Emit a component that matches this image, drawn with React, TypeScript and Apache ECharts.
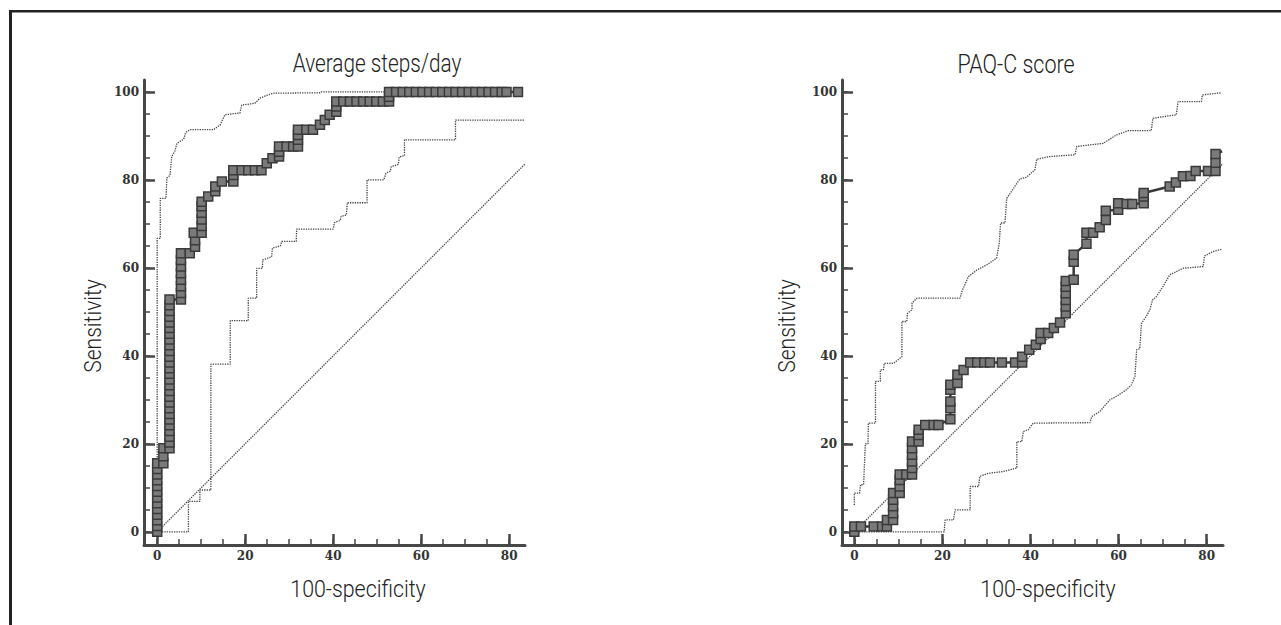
import React, { useEffect, useRef } from "react";
import * as echarts from "echarts";

// ---------- Tick values ----------
const majorTicksX = [0, 20, 40, 60, 80];
const minorTicksX = [0, 5, 10, 15, 20, 25, 30, 35, 40, 45, 50, 55, 60, 65, 70, 75, 80];
const majorTicksY = [0, 20, 40, 60, 80, 100];
const minorTicksY = [0, 5, 10, 15, 20, 25, 30, 35, 40, 45, 50, 55, 60, 65, 70, 75, 80, 85, 90, 95, 100];

// ---------- Texts ----------
const titleLeft = "Average steps/day";
const titleRight = "PAQ-C score";
const xName = "100-specificity";
const yName = "Sensitivity";

// ---------- Average steps/day ----------
const stepsRoc: number[][] = [
  [0, 0], [0, 1.3], [0, 2.6], [0, 3.9], [0, 5.2], [0, 6.5], [0, 7.8], [0, 9.1], [0, 10.4], [0, 11.7], [0, 13], [0, 14.3], [0, 15.6],
  [1.4, 15.6], [1.4, 17.2], [1.4, 19],
  [2.8, 19], [2.8, 20.3], [2.8, 21.6], [2.8, 22.9], [2.8, 24.2], [2.8, 25.5], [2.8, 26.8], [2.8, 28.1], [2.8, 29.4],
  [2.8, 30.7], [2.8, 32], [2.8, 33.3], [2.8, 34.6], [2.8, 35.9], [2.8, 37.2], [2.8, 38.5], [2.8, 39.8], [2.8, 41.1],
  [2.8, 42.4], [2.8, 43.7], [2.8, 45], [2.8, 46.3], [2.8, 47.6], [2.8, 48.9], [2.8, 50.2], [2.8, 51.5], [2.8, 52.8],
  [5.4, 52.8], [5.4, 54.3], [5.4, 55.8], [5.4, 57.3], [5.4, 58.8], [5.4, 60.3], [5.4, 61.8], [5.4, 63.3],
  [7.4, 63.3], [8.6, 64.8], [8.6, 66.3],
  [8.3, 68], [10.1, 68], [10.1, 69.5], [10.1, 71], [10.1, 72.5], [10.1, 74], [10.1, 75],
  [11.6, 76.2], [13.2, 77.4], [13.2, 78.5], [14.7, 79.6],
  [17.3, 79.6], [17.3, 81.1], [17.3, 82.2],
  [19.2, 82.2], [20.7, 82.2], [22.2, 82.2], [23.7, 82.2],
  [24.9, 83.8], [26.2, 84.9], [27.7, 85.3], [27.7, 86.4], [27.7, 87.6],
  [29.4, 87.6], [30.9, 87.6], [32, 87.6], [32, 89.1], [32, 90.2], [32, 91.4],
  [33.9, 91.4], [35.4, 91.4], [37, 92.5], [38.1, 93.6], [39.2, 94.8],
  [40.7, 95.5], [40.7, 96.7], [40.7, 97.8],
  [42.3, 97.8], [43.8, 97.8], [45.3, 97.8], [46.8, 97.8], [48.3, 97.8], [49.8, 97.8], [51.3, 97.8],
  [52.7, 97.8], [52.7, 98.9], [52.7, 100],
  [54.3, 100], [55.8, 100], [57.3, 100], [58.8, 100], [60.3, 100], [61.8, 100], [63.3, 100], [64.8, 100],
  [66.3, 100], [67.8, 100], [69.3, 100], [70.8, 100], [72.3, 100], [73.8, 100], [75.3, 100], [76.8, 100],
  [78.3, 100], [79.4, 100], [82, 100],
];
const stepsUpperCI: number[][] = [
  [0, 0], [0, 66.7], [0.7, 66.7], [0.7, 75.8], [2, 75.8], [2.2, 80.4], [2.9, 81], [3.3, 85.3], [4, 86.5],
  [4.5, 88.3], [6, 89.2], [6.5, 90.8], [7.5, 91.4], [12.8, 91.4], [14.3, 92.5], [15.4, 94.8], [18.8, 95.2],
  [19.2, 97], [22.2, 97.4], [23.4, 98.6], [24.9, 99.2], [26.4, 99.7], [37, 99.8], [37.2, 100], [52.7, 100],
];
const stepsLowerCI: number[][] = [
  [0, 0], [7.1, 0], [7.1, 6.9], [9.7, 6.9], [9.7, 9.5], [12.2, 9.5], [12.2, 38.1], [16.6, 38.1], [16.6, 48],
  [20.7, 48], [20.7, 53.1], [22.6, 53.1], [22.6, 59.9], [23.9, 59.9], [24, 61.8], [26, 62.5], [26.2, 64.5],
  [28, 65], [28.3, 66], [31.6, 66], [31.7, 68.8], [40, 68.8], [40.3, 70.3], [41.6, 70.8], [41.8, 71.7],
  [43, 72], [43.2, 74.8], [47.7, 74.8], [47.7, 80], [51.5, 80], [52, 81.5], [53, 82], [53.2, 83], [54.8, 83.5],
  [55, 85.2], [56.2, 85.5], [56.2, 89.1], [67.8, 89.1], [67.8, 93.6], [83.6, 93.6],
];
const stepsDiagonal: number[][] = [[0, 0], [83.6, 83.6]];

// ---------- PAQ-C score ----------
const paqRoc: number[][] = [
  [0, 0], [0, 1.2], [1.5, 1.2], [4.4, 1.2], [6.3, 1.2], [7.4, 1.2], [7.4, 2.7],
  [8.8, 2.7], [8.8, 4.2], [8.8, 5.8], [8.8, 7.3], [8.8, 8.8],
  [10.3, 8.8], [10.3, 10.3], [10.3, 11.8], [10.3, 13], [11.8, 13],
  [13.1, 13], [13.1, 14.5], [13.1, 16], [13.1, 17.5], [13.1, 19], [13.1, 20.5],
  [14.6, 20.5], [14.6, 22], [14.6, 23.2], [16.1, 24.3], [18, 24.3], [19.1, 24.3],
  [21.8, 25.6], [21.8, 28.1], [21.8, 29.6], [21.8, 32.3], [21.8, 33.4],
  [23.4, 33.8], [23.4, 35.7], [24.8, 36.8],
  [26.3, 38.5], [27.9, 38.5], [29.5, 38.5], [30.8, 38.5], [33.5, 38.5], [36.5, 38.5], [38.1, 38.5],
  [38.1, 39.8], [39.7, 41.4], [41.2, 42.5], [42.3, 43.8], [42.3, 45.2], [44, 45.2], [45.3, 46.3], [46.7, 47.6],
  [48, 49.7], [48, 51.2], [48, 52.7], [48, 54.2], [48, 55.7], [48, 57],
  [49.8, 57.3], [49.8, 61.4], [49.8, 63], [52.7, 65.5], [52.7, 68], [54.2, 68], [55.7, 69.2],
  [57.1, 70.9], [57.1, 73], [59.9, 73.2], [59.9, 74.7], [61.8, 74.5], [63.1, 74.5],
  [65.7, 74.7], [65.7, 76.2], [65.7, 77], [71.6, 78.5], [73, 79.4], [74.6, 80.8], [76.3, 80.9],
  [77.5, 82], [80.3, 82], [82, 82], [82, 83.9], [82, 85.9],
];
const paqRocEnd: number[] = [83.5, 86.5];
const paqUpperCI: number[][] = [
  [0, 6.1], [0, 8.8], [1.2, 8.8], [1.4, 10.7], [2.1, 10.7], [2.5, 20], [3.1, 20], [3.2, 24.7], [4.8, 24.7],
  [4.8, 34.2], [5.9, 34.2], [5.9, 36.8], [6.6, 36.8], [6.8, 38.3], [8.9, 38.3], [10.8, 39.8], [10.8, 47.8],
  [11.9, 47.8], [12.1, 49.7], [13.1, 50.5], [13.1, 52], [14.2, 53.1], [24, 53.1], [24.4, 54.6], [25.9, 58],
  [27.8, 59.5], [30.1, 60.7], [32.3, 62.2], [32.9, 65.6], [33.2, 70.2], [34.2, 70.2], [34.6, 75.8],
  [36.9, 79.2], [37.6, 80.2], [39.1, 80.6], [41, 82.3], [41.4, 84.7], [44.4, 85.3], [50.1, 85.7],
  [50.5, 87.6], [56.5, 88.3], [59.5, 90.2], [62.2, 91.2], [67.4, 91.2], [67.8, 94], [73.1, 94.8],
  [73.5, 97.8], [78.8, 97.8], [79, 99.3], [83.3, 99.8],
];
const paqLowerCI: number[][] = [
  [0, 0], [20.4, 0], [20.6, 2.7], [22.5, 2.7], [22.9, 5], [26.3, 5], [26.3, 10.3], [28.2, 10.3], [28.5, 12.6],
  [30.4, 13.3], [33.8, 13.7], [36.9, 14.5], [36.9, 20.5], [38, 20.5], [38.4, 22.8], [39.5, 23.2], [40.6, 24.7],
  [53.5, 24.8], [53.9, 26.2], [55.7, 27.3], [58, 30], [59.5, 30.8], [61.8, 32.3], [62.9, 33.4], [63.7, 35.3],
  [64.1, 41.4], [64.8, 41.6], [65.2, 47.4], [66.3, 49], [67.1, 50.5], [67.7, 52.7], [68.6, 53.5],
  [70.1, 55.8], [71.6, 58.4], [74.6, 59.9], [79.2, 60.3], [79.5, 62.7], [81.4, 63.7], [83.3, 64.2],
];
const paqDiagonal: number[][] = [[0, 0], [83.7, 83.7]];

// ---------- styles ----------
const AXIS_COLOR = "#474747";
const labelFont = {
  fontFamily: "DejaVu Serif",
  fontWeight: "bold" as const,
  fontSize: 12,
  color: "#333",
};

function xAxesFor(gridIndex: number, min: number, max: number) {
  return [
    {
      gridIndex, type: "value", min, max, position: "bottom",
      axisLine: { show: true, onZero: false, lineStyle: { color: AXIS_COLOR, width: 3 } },
      axisTick: { show: true, inside: true, length: 11, customValues: majorTicksX, lineStyle: { color: AXIS_COLOR, width: 2.5 } },
      axisLabel: { show: true, margin: 5, customValues: majorTicksX, ...labelFont },
      splitLine: { show: false },
    },
    {
      gridIndex, type: "value", min, max, position: "bottom",
      axisLine: { show: false, onZero: false },
      axisTick: { show: true, inside: true, length: 6, customValues: minorTicksX, lineStyle: { color: AXIS_COLOR, width: 1.5 } },
      axisLabel: { show: false },
      splitLine: { show: false },
    },
  ];
}

function yAxesFor(gridIndex: number, min: number, max: number) {
  return [
    {
      gridIndex, type: "value", min, max, position: "left",
      axisLine: { show: true, onZero: false, lineStyle: { color: AXIS_COLOR, width: 3 } },
      axisTick: { show: true, inside: true, length: 11, customValues: majorTicksY, lineStyle: { color: AXIS_COLOR, width: 2.5 } },
      axisLabel: { show: true, margin: 5, customValues: majorTicksY, ...labelFont },
      splitLine: { show: false },
    },
    {
      gridIndex, type: "value", min, max, position: "left",
      axisLine: { show: false, onZero: false },
      axisTick: { show: true, inside: true, length: 6, customValues: minorTicksY, lineStyle: { color: AXIS_COLOR, width: 1.5 } },
      axisLabel: { show: false },
      splitLine: { show: false },
    },
  ];
}

function dotted(data: number[][], xAxisIndex: number, yAxisIndex: number) {
  return {
    type: "line", data, xAxisIndex, yAxisIndex, showSymbol: false, symbol: "none", silent: true, z: 2,
    lineStyle: { color: "#444", width: 1.3, type: [1.3, 1.1] },
  };
}

function roc(data: any[], xAxisIndex: number, yAxisIndex: number) {
  return {
    type: "line", data, xAxisIndex, yAxisIndex, symbol: "rect", symbolSize: 9, showSymbol: true, z: 5,
    lineStyle: { color: "#383838", width: 2.5 },
    itemStyle: { color: "#7a7a7a", borderColor: "#3a3a3a", borderWidth: 1.5 },
  };
}

function titleText(text: string, x: number, y: number, scaleX: number, size = 25) {
  return {
    type: "text", x, y, scaleX, z: 10,
    style: { text, fontFamily: "Roboto", fontWeight: 300, fontSize: size, fill: "#222", align: "center", verticalAlign: "middle" },
  };
}

function vText(text: string, x: number, y: number, scaleX: number) {
  return {
    type: "text", x, y, scaleX, rotation: Math.PI / 2, z: 10,
    style: { text, fontFamily: "Roboto", fontWeight: 300, fontSize: 24, fill: "#222", align: "center", verticalAlign: "middle" },
  };
}

export default function App() {
  const ref = useRef<HTMLDivElement>(null);
  useEffect(() => {
    if (!ref.current) return;
    const chart = echarts.init(ref.current, undefined, { renderer: "svg" });
    const option: any = {
      animation: false,
      backgroundColor: "#ffffff",
      grid: [
        { left: 144, top: 80, width: 381, height: 465 },
        { left: 842, top: 80, width: 381, height: 465 },
      ],
      xAxis: [...xAxesFor(0, -3, 83.6), ...xAxesFor(1, -2.8, 83.7)],
      yAxis: [...yAxesFor(0, -3, 102.7), ...yAxesFor(1, -3, 102.7)],
      series: [
        dotted(stepsDiagonal, 0, 0),
        dotted(stepsUpperCI, 0, 0),
        dotted(stepsLowerCI, 0, 0),
        roc(stepsRoc, 0, 0),
        dotted(paqDiagonal, 2, 2),
        dotted(paqUpperCI, 2, 2),
        dotted(paqLowerCI, 2, 2),
        roc([...paqRoc, { value: paqRocEnd, symbol: "none" }], 2, 2),
      ],
      graphic: [
        { type: "rect", shape: { x: 9, y: 10, width: 3, height: 615 }, style: { fill: "#222" } },
        { type: "rect", shape: { x: 9, y: 10, width: 1272, height: 2.5 }, style: { fill: "#222" } },
        titleText(titleLeft, 377, 64, 0.83),
        titleText(titleRight, 1016, 64, 0.86),
        titleText(xName, 358, 589, 0.89, 24),
        titleText(xName, 1048, 589, 0.89, 24),
        vText(yName, 93, 326, 0.88),
        vText(yName, 787, 326, 0.88),
      ],
    };
    chart.setOption(option);
    return () => chart.dispose();
  }, []);
  return (
    <div
      ref={ref}
      style={{ position: "fixed", left: 0, top: 0, width: 1281, height: 625, background: "#fff" }}
    />
  );
}
